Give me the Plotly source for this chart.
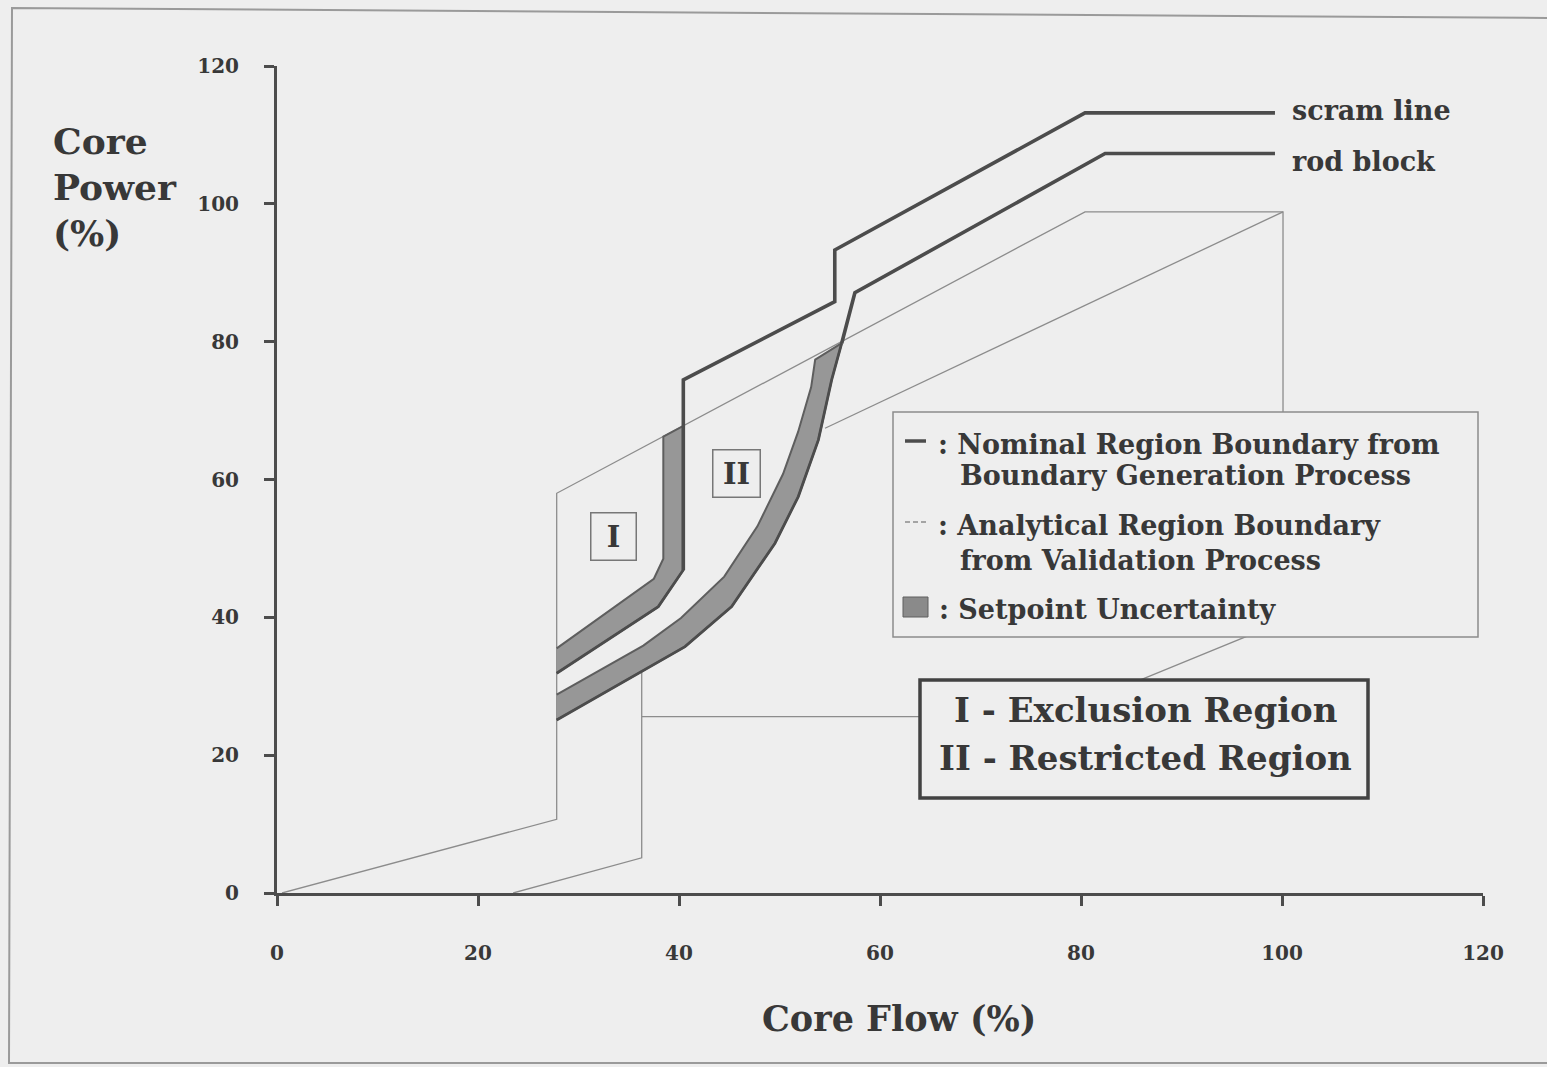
import plotly.graph_objects as go

# ---------------- data ----------------
# scram line (incl. nominal Region I right boundary)
scram_x = [40.43, 40.43, 55.5, 55.5, 80.4, 99.3]
scram_y = [46.88, 74.46, 85.8, 93.3, 113.2, 113.2]
# rod block line (joins nominal Region II boundary at top)
rod_x = [56.19, 57.5, 82.4, 99.3]
rod_y = [79.78, 87.1, 107.3, 107.3]

# Region I setpoint-uncertainty band: nominal (lower) edge and inner edge
bandI_nom_x = [27.83, 37.94, 40.43, 40.43]
bandI_nom_y = [31.89, 41.55, 46.88, 67.79]
bandI_in_x = [27.83, 37.5, 38.44, 38.44]
bandI_in_y = [35.5, 45.6, 48.5, 66.23]

# Region II setpoint-uncertainty band: nominal (outer) edge and inner edge
bandII_nom_x = [27.83, 36.29, 40.6, 45.24, 49.55, 51.87, 53.87, 55.19, 56.19]
bandII_nom_y = [25.11, 32.12, 35.75, 41.55, 50.75, 57.52, 65.75, 74.46, 79.78]
bandII_in_x = [27.83, 36.45, 40.2, 44.5, 47.8, 50.35, 51.85, 53.15, 53.55]
bandII_in_y = [28.8, 35.9, 39.9, 45.9, 53.2, 60.8, 66.9, 73.4, 77.4]

# analytical region boundaries (thin lines)
anaA_x = [0.5, 27.83, 27.83, 80.4, 100.1, 100.1, 77.0, 36.29]
anaA_y = [0.0, 10.7, 58.0, 98.84, 98.84, 39.4, 25.6, 25.6]
anaB_x = [23.5, 36.29, 36.29]
anaB_y = [0.0, 5.1, 32.12]
anaC_x = [100.1, 54.53]
anaC_y = [98.84, 67.44]

x_ticks = [0, 20, 40, 60, 80, 100, 120]
y_ticks = [0, 20, 40, 60, 80, 100, 120]

region_labels = ["I", "II"]
region_label_x = [33.53, 45.7]
region_label_y = [51.7, 60.8]

line_labels = ["scram line", "rod block"]
line_label_y = [113.6, 106.2]

legend_lines = [": Nominal Region Boundary from", "Boundary Generation Process",
                ": Analytical Region Boundary", "from Validation Process",
                ": Setpoint Uncertainty"]
region_text = ["I - Exclusion Region", "II - Restricted Region"]

# ---------------- styling ----------------
W, H = 1547, 1067
L, R, T, B = 277, 64, 66, 174
PW, PH = W - L - R, H - T - B
BG = "#eeeeee"
DARK = "#4c4c4c"
TXT = "#383838"
THIN = "#8c8c8c"
FONT = "DejaVu Serif"


def px(x):
    return (x - L) / PW


def py(y):
    return (H - B - y) / PH


fig = go.Figure()

# thin analytical lines
for xs, ys in [(anaA_x, anaA_y), (anaB_x, anaB_y), (anaC_x, anaC_y)]:
    fig.add_trace(go.Scatter(x=xs, y=ys, mode="lines",
                             line=dict(color=THIN, width=1.3),
                             hoverinfo="skip", showlegend=False))

# uncertainty bands
for nx, ny, ix, iy in [(bandI_nom_x, bandI_nom_y, bandI_in_x, bandI_in_y),
                       (bandII_nom_x, bandII_nom_y, bandII_in_x, bandII_in_y)]:
    fig.add_trace(go.Scatter(x=nx + ix[::-1], y=ny + iy[::-1], mode="lines",
                             fill="toself", fillcolor="#979797",
                             line=dict(color="#5e5e5e", width=2),
                             hoverinfo="skip", showlegend=False))
    fig.add_trace(go.Scatter(x=nx, y=ny, mode="lines",
                             line=dict(color=DARK, width=2.8),
                             hoverinfo="skip", showlegend=False))

# scram line and rod block
for xs, ys in [(scram_x, scram_y), (rod_x, rod_y)]:
    fig.add_trace(go.Scatter(x=xs, y=ys, mode="lines",
                             line=dict(color=DARK, width=3.6),
                             hoverinfo="skip", showlegend=False))

shapes = []
annotations = []

# page frame (scan border)
shapes.append(dict(type="path", xref="paper", yref="paper",
                   path=f"M {px(1547)},{py(18)} L {px(12)},{py(8)} L {px(9)},{py(1063)} L {px(1547)},{py(1063)}",
                   line=dict(color="#9a9a9a", width=2), layer="below"))

# legend box
shapes.append(dict(type="rect", xref="paper", yref="paper",
                   x0=px(893), x1=px(1478), y0=py(637), y1=py(412),
                   line=dict(color="#8c8c8c", width=1.5), fillcolor=BG, layer="above"))
# legend symbols
shapes.append(dict(type="line", xref="paper", yref="paper",
                   x0=px(905), x1=px(926), y0=py(441), y1=py(441),
                   line=dict(color=DARK, width=3.5), layer="above"))
shapes.append(dict(type="line", xref="paper", yref="paper",
                   x0=px(905), x1=px(928), y0=py(522), y1=py(522),
                   line=dict(color=THIN, width=1.3, dash="5px,3px"), layer="above"))
shapes.append(dict(type="rect", xref="paper", yref="paper",
                   x0=px(903), x1=px(928), y0=py(617), y1=py(597),
                   line=dict(color="#5e5e5e", width=1), fillcolor="#8a8a8a", layer="above"))

# region label box
shapes.append(dict(type="rect", xref="paper", yref="paper",
                   x0=px(920), x1=px(1368), y0=py(798), y1=py(680),
                   line=dict(color="#424242", width=3.5), fillcolor=BG, layer="above"))

# legend text
leg_x = [936, 958, 936, 958, 937]
leg_y = [444, 476, 525, 560, 609]
for t, lx, ly in zip(legend_lines, leg_x, leg_y):
    annotations.append(dict(text=t, xref="paper", yref="paper", x=px(lx), y=py(ly),
                            xanchor="left", yanchor="middle", showarrow=False,
                            font=dict(family=FONT, size=27, color=TXT, weight="bold")))

# region description text
for t, ly in zip(region_text, [710, 758]):
    annotations.append(dict(text=t, xref="paper", yref="paper", x=px(1145), y=py(ly),
                            xanchor="center", yanchor="middle", showarrow=False,
                            font=dict(family=FONT, size=34, color=TXT, weight="bold")))

# region I / II boxed labels
for t, lx, ly in zip(region_labels, region_label_x, region_label_y):
    annotations.append(dict(text=t, x=lx, y=ly, xref="x", yref="y", showarrow=False,
                            font=dict(family=FONT, size=29, color=TXT, weight="bold"),
                            width=40 if t == "I" else 42, height=42,
                            bordercolor="#777777", borderwidth=1.5, borderpad=2, bgcolor=BG))

# scram / rod block labels
for t, ly in zip(line_labels, line_label_y):
    annotations.append(dict(text=t, x=100.8, y=ly, xref="x", yref="y", xanchor="left",
                            yanchor="middle", showarrow=False,
                            font=dict(family=FONT, size=27, color=TXT, weight="bold")))

# axis titles
for t, ly in zip(["Core", "Power", "(%)"], [141, 187, 233]):
    annotations.append(dict(text=t, xref="paper", yref="paper", x=px(51), y=py(ly),
                            xanchor="left", yanchor="middle", showarrow=False,
                            font=dict(family=FONT, size=36, color=TXT, weight="bold")))
annotations.append(dict(text="Core Flow (%)", xref="paper", yref="paper", x=px(899), y=py(1018),
                        xanchor="center", yanchor="middle", showarrow=False,
                        font=dict(family=FONT, size=35, color=TXT, weight="bold")))

axis_common = dict(range=[0, 120], showgrid=False, zeroline=False, showline=True,
                   linecolor=DARK, linewidth=3, ticks="outside", ticklen=10,
                   tickwidth=3, tickcolor=DARK,
                   tickfont=dict(family=FONT, size=20, color=TXT, weight="bold"))

fig.update_layout(
    width=W, height=H,
    margin=dict(l=L, r=R, t=T, b=B),
    paper_bgcolor=BG, plot_bgcolor=BG,
    xaxis=dict(tickvals=x_ticks, ticklabelstandoff=30, **axis_common),
    yaxis=dict(tickvals=y_ticks, ticklabelstandoff=21, **axis_common),
    shapes=shapes, annotations=annotations, showlegend=False,
)

fig.write_html("out.html")
